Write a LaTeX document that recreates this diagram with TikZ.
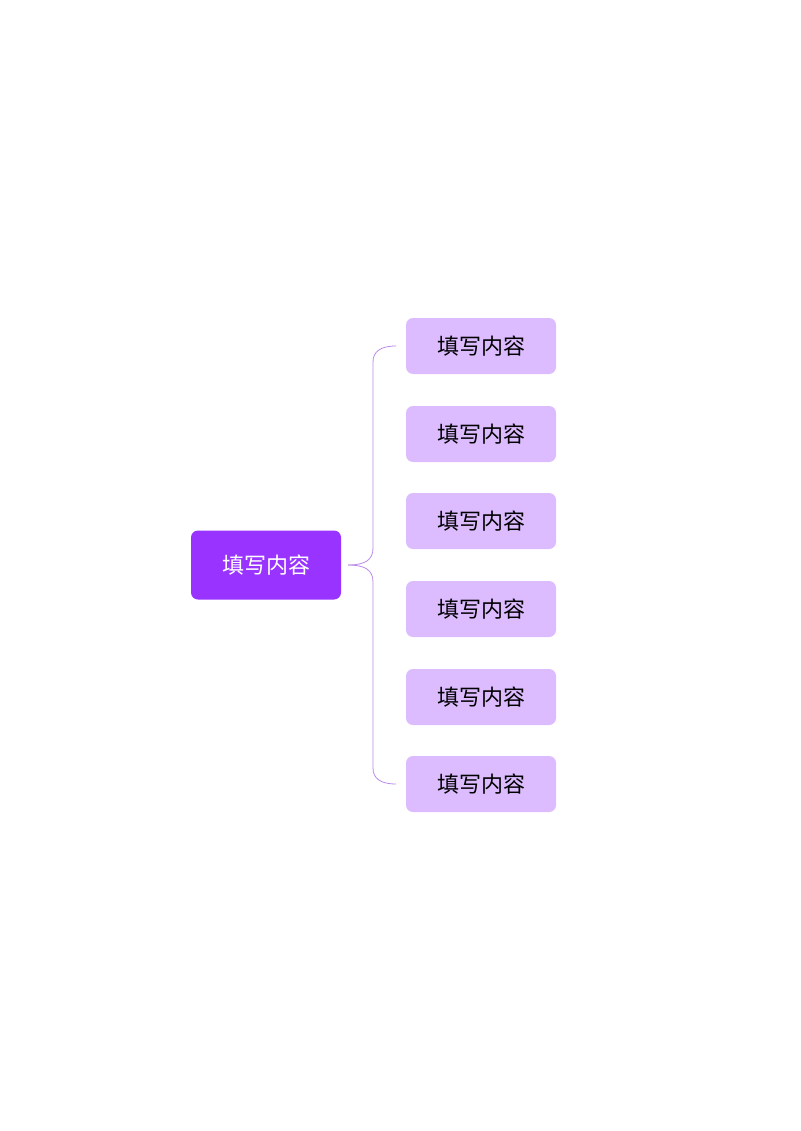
\documentclass[tikz,border=0pt]{standalone}
\usepackage{fontspec}
\newfontfamily\cjk{Noto Sans CJK SC}
\definecolor{rootc}{HTML}{9933FF}
\definecolor{kidc}{HTML}{DDBBFF}
\definecolor{linec}{HTML}{B98AE6}
\begin{document}
\begin{tikzpicture}[x=1pt,y=-1pt,
  rootbox/.style={fill=rootc,rounded corners=7pt,minimum width=150pt,minimum height=69pt,text=white,font=\cjk\fontsize{22}{26}\selectfont},
  kidbox/.style={fill=kidc,rounded corners=7pt,minimum width=150pt,minimum height=56pt,text=black,font=\cjk\fontsize{22}{26}\selectfont}]
\useasboundingbox (0,0) rectangle (800,1131);
\node[rootbox] (r) at (266,565) {填写内容};
\foreach \i/\y in {1/346,2/434,3/521,4/609,5/697,6/784}{
  \node[kidbox] (k\i) at (481,\y) {填写内容};
}
\coordinate (s) at (348,565);
\coordinate (t1) at (396,346);
\coordinate (t6) at (396,784);
\draw[linec,line width=0.8pt] (s) .. controls (365,565) and (373,560) .. (373,548) -- (373,362) .. controls (373,352) and (380,346) .. (t1);
\draw[linec,line width=0.8pt] (s) .. controls (365,565) and (373,570) .. (373,582) -- (373,768) .. controls (373,778) and (380,784) .. (t6);
\end{tikzpicture}
\end{document}
